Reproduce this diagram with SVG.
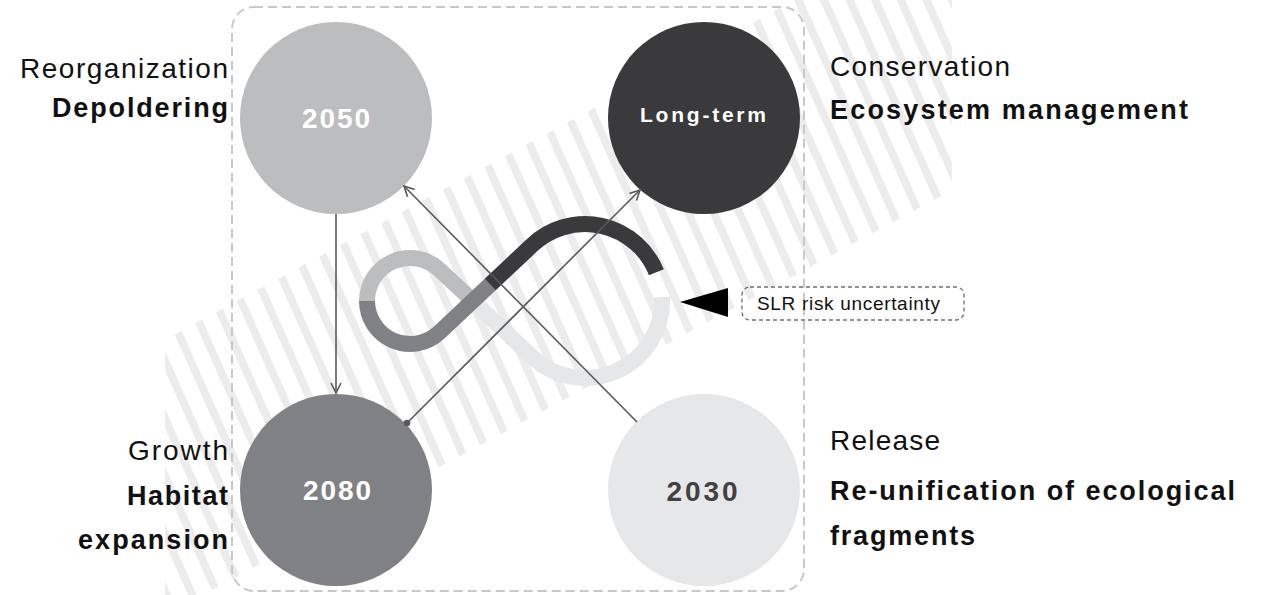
<svg xmlns="http://www.w3.org/2000/svg" width="1261" height="595" viewBox="0 0 1261 595">
<style>
.lbl{font-family:"Liberation Sans",Arial,sans-serif;font-size:28px;fill:#111;}
.lt{font-weight:normal;}
.bd{font-weight:bold;font-size:27px;}
.yr{font-family:"Liberation Sans",Arial,sans-serif;font-weight:bold;font-size:28px;text-anchor:middle;}
.con{fill:none;stroke:#58595b;stroke-width:1.6;}
.inf{fill:none;stroke-width:16;stroke-linecap:butt;}
</style>
<defs>
<pattern id="stripes" width="23.4" height="40" patternUnits="userSpaceOnUse" patternTransform="rotate(-24)">
<rect x="0" y="0" width="8" height="40" fill="#ececed"/>
</pattern>
<clipPath id="bandclip"><rect x="165" y="0" width="787" height="595"/></clipPath>
<marker id="chev" viewBox="0 0 12 12" refX="11" refY="6" markerWidth="12" markerHeight="12" markerUnits="userSpaceOnUse" orient="auto">
<path d="M1,1 L11,6 L1,11" fill="none" stroke="#58595b" stroke-width="1.6"/>
</marker>
<marker id="dot" viewBox="0 0 8 8" refX="4" refY="4" markerWidth="8" markerHeight="8" markerUnits="userSpaceOnUse">
<circle cx="4" cy="4" r="3.3" fill="#58595b"/>
</marker>
</defs>
<rect width="1261" height="595" fill="#ffffff"/>
<g id="stripe-band" clip-path="url(#bandclip)">
<polygon points="0,428.8 1000,-111 1000,164.4 0,704.4" fill="url(#stripes)"/>
</g>
<rect id="frame" x="232" y="7" width="572" height="584" rx="22" ry="22" fill="none" stroke="#c8c8c9" stroke-width="2" stroke-dasharray="9 5"/>
<g id="infinity">
<path class="inf" stroke="#e6e7e8" d="M472.7,301 L532.2,357 A77,77 0 0 0 661.9,297"/>
<path class="inf" stroke="#bcbdbf" d="M367,301 A43,43 0 0 1 439.5,269.7 L474,302"/>
<path class="inf" stroke="#808184" d="M367,301 A43,43 0 0 0 439.5,332.3 L490.2,284.5"/>
<path class="inf" stroke="#3a3a3c" d="M490.2,284.5 L532.2,245 A77,77 0 0 1 656.4,272.2"/>
</g>
<g id="node-2050">
<circle cx="336" cy="118" r="96" fill="#bcbdbf"/>
<text class="yr" x="336" y="128" fill="#ffffff" textLength="68" lengthAdjust="spacing">2050</text>
<text class="lbl lt" x="228" y="78" text-anchor="end" textLength="208" lengthAdjust="spacing">Reorganization</text>
<text class="lbl bd" x="228" y="117" text-anchor="end" textLength="176" lengthAdjust="spacing">Depoldering</text>
</g>
<g id="node-longterm">
<circle cx="704" cy="118" r="96" fill="#3a3a3c"/>
<text class="yr" x="703" y="122" fill="#ffffff" style="font-size:21px" textLength="126" lengthAdjust="spacing">Long-term</text>
<text class="lbl lt" x="830" y="76" textLength="180" lengthAdjust="spacing">Conservation</text>
<text class="lbl bd" x="830" y="119" textLength="358" lengthAdjust="spacing">Ecosystem management</text>
</g>
<g id="node-2080">
<circle cx="336" cy="490" r="96" fill="#808184"/>
<text class="yr" x="337" y="500" fill="#ffffff" textLength="68" lengthAdjust="spacing">2080</text>
<text class="lbl lt" x="228" y="460" text-anchor="end" textLength="100" lengthAdjust="spacing">Growth</text>
<text class="lbl bd" x="228" y="505" text-anchor="end" textLength="101" lengthAdjust="spacing">Habitat</text>
<text class="lbl bd" x="228" y="549" text-anchor="end" textLength="150" lengthAdjust="spacing">expansion</text>
</g>
<g id="node-2030">
<circle cx="704" cy="490" r="96" fill="#e6e7e8"/>
<text class="yr" x="702" y="501" fill="#414042" textLength="71" lengthAdjust="spacing">2030</text>
<text class="lbl lt" x="830" y="450" textLength="110" lengthAdjust="spacing">Release</text>
<text class="lbl bd" x="830" y="500" textLength="405" lengthAdjust="spacing">Re-unification of ecological</text>
<text class="lbl bd" x="830" y="545" textLength="145" lengthAdjust="spacing">fragments</text>
</g>
<g id="connectors">
<path class="con" d="M336,214 L336,393" marker-end="url(#chev)"/>
<path class="con" d="M637,422 L404,186" marker-end="url(#chev)"/>
<path class="con" d="M407,423 L640,190" marker-start="url(#dot)" marker-end="url(#chev)"/>
</g>
<g id="slr-note">
<polygon points="680,302 728,288 728,317" fill="#000000"/>
<rect x="742" y="287" width="222" height="33" rx="8" ry="8" fill="none" stroke="#6d6e71" stroke-width="1.3" stroke-dasharray="4 3"/>
<text x="757" y="310" font-family="Liberation Sans, Arial, sans-serif" font-size="19" fill="#111" textLength="183" lengthAdjust="spacing">SLR risk uncertainty</text>
</g>
</svg>
